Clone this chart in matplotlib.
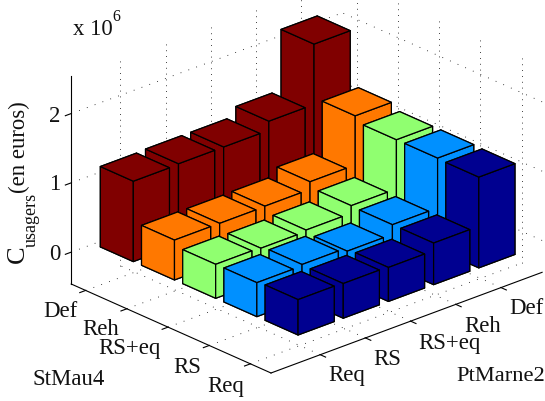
import numpy as np
import matplotlib
matplotlib.use('Agg')
import matplotlib.pyplot as plt
from mpl_toolkits.mplot3d import proj3d

W, H = 545, 401

# categories (same order on both horizontal axes)
cats = ['Req', 'RS', 'RS+eq', 'Reh', 'Def']
ticks = [1, 2, 3, 4, 5]
z_ticks = [0, 1, 2]

# bar heights in 1e6 euros, one list per StMau4 category, along PtMarne2
h_req = [0.51, 0.50, 0.49, 0.60, 1.31]
h_rs = [0.49, 0.51, 0.46, 0.60, 1.32]
h_rseq = [0.49, 0.48, 0.50, 0.61, 1.32]
h_reh = [0.575, 0.574, 0.58, 0.69, 1.40]
h_def = [1.16, 1.17, 1.17, 1.30, 2.17]
rows = [h_req, h_rs, h_rseq, h_reh, h_def]
colors = ['#000090', '#0090ff', '#90ff70', '#ff7800', '#800000']

BASE = -0.105
XL = (-0.09, 5.91)
YL = (0.5, 5.35)
ZL = (-0.46, 2.54)
ASPECT = (6 * 60.9, 4.85 * 60.8, 3 * 75.5)

plt.rcParams['font.family'] = ['Liberation Serif', 'DejaVu Serif']

fig = plt.figure(figsize=(W / 100, H / 100), dpi=100)
side = 700
ax = fig.add_axes([0, 0, side / W, side / H], projection='3d')
ax.set_proj_type('ortho')
ax.view_init(elev=24, azim=-132.4)
ax.computed_zorder = False
ax.set_axis_off()

# bars, far ones first
z = 10
for j in range(4, -1, -1):
    for i in range(4, -1, -1):
        ax.bar3d(ticks[i] - 0.4, ticks[j] - 0.4, BASE, 0.8, 0.8, rows[j][i],
                 color=colors[j], edgecolor='k', linewidth=0.9, shade=False, zorder=z)
        z += 1

ax.set_xlim(*XL, view_margin=0)
ax.set_ylim(*YL, view_margin=0)
ax.set_zlim(*ZL, view_margin=0)
ax.set_box_aspect(ASPECT, zoom=1)


def to_px(x, y, zz):
    xp, yp, _ = proj3d.proj_transform(x, y, zz, ax.get_proj())
    dx, dy = ax.transData.transform((xp, yp))
    return dx, H - dy


# scale and place the box so that its corners land where they should
fig.canvas.draw()
p0 = np.array(to_px(XL[0], YL[0], ZL[0]))
p1 = np.array(to_px(XL[1], YL[0], ZL[0]))
ax.set_box_aspect(ASPECT, zoom=289.2 / np.hypot(*(p1 - p0)))
fig.canvas.draw()
p0 = np.array(to_px(XL[0], YL[0], ZL[0]))
off = np.array([271, 373]) - p0
ax.set_position([off[0] / W, -off[1] / H, side / W, side / H])
fig.canvas.draw()

grid_v = dict(color='k', lw=0.6, ls=(0, (1, 6)), zorder=1)
grid_h = dict(color='k', lw=0.6, ls=(0, (1, 9)), zorder=1)
for t in ticks:
    # floor
    ax.plot([t, t], YL, [ZL[0], ZL[0]], **grid_h)
    ax.plot(XL, [t, t], [ZL[0], ZL[0]], **grid_h)
    # back walls
    ax.plot([t, t], [YL[1], YL[1]], ZL, **grid_v)
    ax.plot([XL[1], XL[1]], [t, t], ZL, **grid_v)
for t in z_ticks:
    ax.plot(XL, [YL[1], YL[1]], [t, t], **grid_h)
    ax.plot([XL[1], XL[1]], YL, [t, t], **grid_h)

# axis lines and ticks
axl = dict(color='k', lw=0.8, zorder=2)
ax.plot(XL, [YL[0], YL[0]], [ZL[0], ZL[0]], **axl)
ax.plot([XL[0], XL[0]], YL, [ZL[0], ZL[0]], **axl)
ax.plot([XL[0], XL[0]], [YL[1], YL[1]], ZL, **axl)
for t in ticks:
    ax.plot([t, t], [YL[0], YL[0] - 0.13], [ZL[0], ZL[0]], **axl)
    ax.plot([XL[0], XL[0] - 0.13], [t, t], [ZL[0], ZL[0]], **axl)
for t in z_ticks:
    ax.plot([XL[0], XL[0] - 0.13], [YL[1], YL[1]], [t, t], **axl)


def label(x, y, s, size=16.4, **kw):
    fig.text(x / W, 1 - y / H, s, fontsize=size, color='#111111', va='baseline', **kw)


# tick labels
for s, x, y in zip(cats, [328, 373, 418, 464, 509], [381, 365, 349, 332, 314]):
    label(x, y, s)
for s, x, y in zip(cats, [207, 173, 98, 82, 43], [392, 373, 354, 335, 317]):
    label(x, y, s)
label(33, 385, 'StMau4')
label(456, 381, 'PtMarne2', size=16.2)
for t, y in zip(z_ticks, [254, 185, 116]):
    fig.text(60 / W, 1 - y / H, str(t), fontsize=16.4, ha='right', va='center', color='#111111')

# multiplier
label(73, 35, 'x 10')
label(112, 21, '6', size=11.5)

# z label
fig.text(29 / W, 1 - 263 / H, 'C', fontsize=19, rotation=90, ha='right', va='bottom', color='#111111')
fig.text(40 / W, 1 - 247 / H, 'usagers', fontsize=13, rotation=90, ha='right', va='bottom', color='#111111')
fig.text(30 / W, 1 - 193 / H, '(en euros)', fontsize=16.4, rotation=90, ha='right', va='bottom', color='#111111')

fig.savefig('out.png', dpi=100)
